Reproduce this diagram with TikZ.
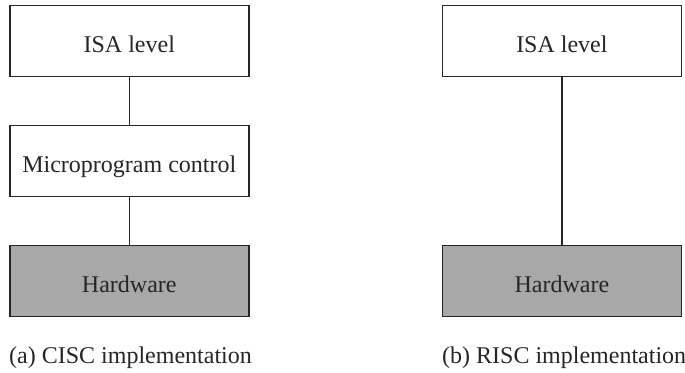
\documentclass[tikz,border=0pt]{standalone}
\usepackage{fontspec}
\setmainfont{Liberation Serif}
\definecolor{inkgray}{HTML}{262626}
\definecolor{hwfill}{HTML}{A8A8A8}
\begin{document}
\begin{tikzpicture}[x=1pt,y=-1pt,
  levelbox/.style={draw=inkgray, line width=1.4pt, fill=white, rectangle,
    minimum width=239pt, minimum height=71pt, inner sep=0pt,
    text height=22pt, text depth=0pt, text=inkgray,
    font=\fontsize{24}{28}\selectfont},
  hwbox/.style={levelbox, fill=hwfill},
  link/.style={draw=inkgray, line width=1.4pt},
  caption/.style={anchor=base west, inner sep=0pt, text=inkgray,
    font=\fontsize{24}{28}\selectfont}]
  \useasboundingbox (0,0) rectangle (685,372);

  % (a) CISC: three levels
  \node[levelbox] (isaA)   at (129.3,41)  {ISA level};
  \node[levelbox] (microA) at (129.3,161) {Microprogram control};
  \node[hwbox]    (hwA)    at (129.3,281) {Hardware};
  \draw[link] (isaA) -- (microA);
  \draw[link] (microA) -- (hwA);
  \node[caption] (capA) at (9,363) {(a) CISC implementation};

  % (b) RISC: ISA directly on hardware
  \node[levelbox] (isaB) at (561.9,41)  {ISA level};
  \node[hwbox]    (hwB)  at (561.9,281) {Hardware};
  \draw[link] (isaB) -- (hwB);
  \node[caption] (capB) at (442,363) {(b) RISC implementation};
\end{tikzpicture}
\end{document}
